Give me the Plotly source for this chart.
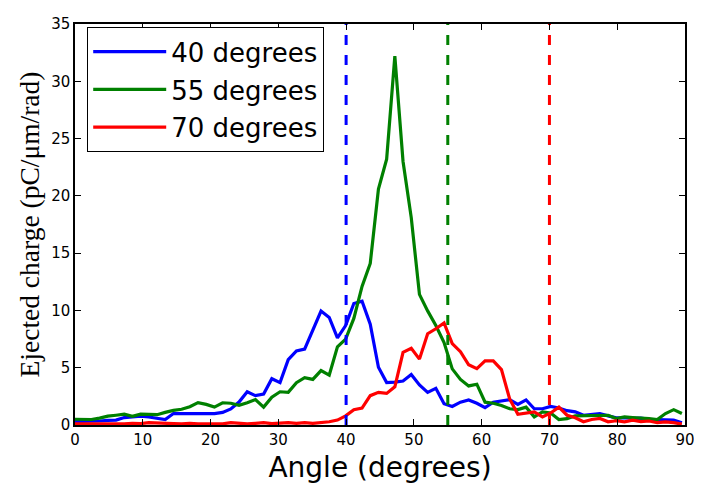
import plotly.graph_objects as go

angles = [0, 1.21, 2.42, 3.63, 4.84, 6.05, 7.26, 8.47, 9.68, 10.89, 12.1, 13.31, 14.52,
          15.73, 16.94, 18.15, 19.36, 20.57, 21.78, 22.99, 24.2, 25.41, 26.62, 27.83,
          29.04, 30.25, 31.46, 32.67, 33.88, 35.09, 36.3, 37.51, 38.72, 39.93, 41.14,
          42.35, 43.56, 44.77, 45.98, 47.19, 48.4, 49.61, 50.82, 52.03, 53.24, 54.45,
          55.66, 56.87, 58.08, 59.29, 60.5, 61.71, 62.92, 64.13, 65.34, 66.55, 67.76,
          68.97, 70.18, 71.39, 72.6, 73.81, 75.02, 76.23, 77.44, 78.65, 79.86, 81.07,
          82.28, 83.49, 84.7, 85.91, 87.12, 88.33, 89.54]

charge_40 = [0.3, 0.3, 0.3, 0.35, 0.4, 0.43, 0.65, 0.72, 0.77, 0.7, 0.6, 0.48, 1.0,
             1.0, 1.0, 1.0, 1.0, 1.0, 1.1, 1.4, 2.0, 2.9, 2.56, 2.7, 4.04, 3.7, 5.7,
             6.46, 6.63, 8.25, 9.95, 9.39, 7.6, 8.68, 10.6, 10.8, 8.8, 5.04, 3.7, 3.75,
             3.84, 4.41, 3.5, 2.85, 3.2, 1.85, 1.62, 1.99, 2.19, 1.9, 1.51, 1.99, 2.13,
             2.22, 1.79, 2.19, 1.42, 1.42, 1.62, 1.48, 1.25, 1.15, 0.85, 0.9, 1.0, 0.8,
             0.63, 0.63, 0.57, 0.6, 0.5, 0.48, 0.48, 0.43, 0.2]

charge_55 = [0.5, 0.5, 0.48, 0.6, 0.77, 0.85, 0.94, 0.75, 0.94, 0.92, 0.9, 1.1, 1.28,
             1.37, 1.6, 1.95, 1.8, 1.56, 1.94, 1.9, 1.72, 1.95, 2.22, 1.56, 2.42, 2.9,
             2.85, 3.7, 4.13, 3.98, 4.75, 4.35, 6.83, 7.5, 9.3, 12.1, 14.1, 20.6, 23.2,
             32.2, 23.0, 18.1, 11.4, 9.96, 8.68, 7.2, 4.9, 3.98, 3.41, 3.56, 1.99, 1.9,
             1.71, 1.42, 1.34, 1.56, 0.71, 1.14, 1.05, 0.48, 0.55, 0.8, 0.8, 0.8, 0.8,
             0.85, 0.57, 0.71, 0.65, 0.63, 0.55, 0.48, 1.0, 1.34, 1.0]

charge_70 = [0.1, 0.1, 0.12, 0.1, 0.08, 0.1, 0.1, 0.15, 0.12, 0.2, 0.15, 0.1, 0.12,
             0.1, 0.15, 0.1, 0.12, 0.1, 0.1, 0.2, 0.15, 0.1, 0.15, 0.2, 0.12, 0.15,
             0.2, 0.15, 0.2, 0.14, 0.2, 0.28, 0.43, 0.8, 1.34, 1.48, 2.56, 2.85, 2.76,
             3.33, 6.34, 6.69, 5.75, 7.97, 8.4, 8.9, 7.11, 6.4, 5.26, 4.92, 5.6, 5.6,
             4.84, 2.28, 0.94, 1.05, 1.14, 0.71, 1.05, 1.56, 0.85, 0.63, 0.28, 0.48,
             0.57, 0.28, 0.37, 0.28, 0.43, 0.3, 0.35, 0.2, 0.28, 0.2, 0.08]

series_names = ["40 degrees", "55 degrees", "70 degrees"]
series_colors = ["#0000ff", "#008000", "#ff0000"]
incidence_angles = [40, 55, 70]

x_ticks = [0, 10, 20, 30, 40, 50, 60, 70, 80, 90]
y_ticks = [0, 5, 10, 15, 20, 25, 30, 35]
x_range = [0, 90]
y_range = [0, 35]

fig = go.Figure()

for i, (name, ys) in enumerate(zip(series_names, [charge_40, charge_55, charge_70])):
    fig.add_trace(go.Scatter(
        x=angles, y=ys, mode="lines", name=name,
        line=dict(color=series_colors[i], width=3.2),
        legendgroup=f"g{i}",
    ))

for i, a in enumerate(incidence_angles):
    fig.add_trace(go.Scatter(
        x=[a, a], y=y_range, mode="lines", showlegend=False,
        line=dict(color=series_colors[i], width=3, dash="10px,10px"),
        hoverinfo="skip",
    ))

axis_common = dict(
    showline=True, linecolor="black", linewidth=1.5, mirror="ticks",
    ticks="inside", ticklen=6, tickwidth=1, tickcolor="black",
    showgrid=False, zeroline=False,
    tickfont=dict(family="DejaVu Sans", size=15, color="black"),
)

# page body has an 8px margin, so the figure is shrunk by 8px and shifted
fig.update_layout(
    width=694, height=481,
    margin=dict(l=67, r=12, t=7, b=64),
    plot_bgcolor="white", paper_bgcolor="white",
    xaxis=dict(range=x_range, tickvals=x_ticks,
               title=dict(text="Angle (degrees)", standoff=10,
                          font=dict(family="DejaVu Sans", size=28, color="black")),
               **axis_common),
    yaxis=dict(range=y_range, tickvals=y_ticks,
               title=dict(text="Ejected charge (pC/μm/rad)", standoff=4,
                          font=dict(family="Liberation Serif", size=27.5, color="black")),
               **axis_common),
    legend=dict(
        x=0.02, y=0.992, xanchor="left", yanchor="top",
        bgcolor="white", bordercolor="black", borderwidth=1,
        font=dict(family="DejaVu Sans", size=26, color="black"),
        itemwidth=73, tracegroupgap=1,
    ),
    showlegend=True,
)

fig.write_html("out.html")
